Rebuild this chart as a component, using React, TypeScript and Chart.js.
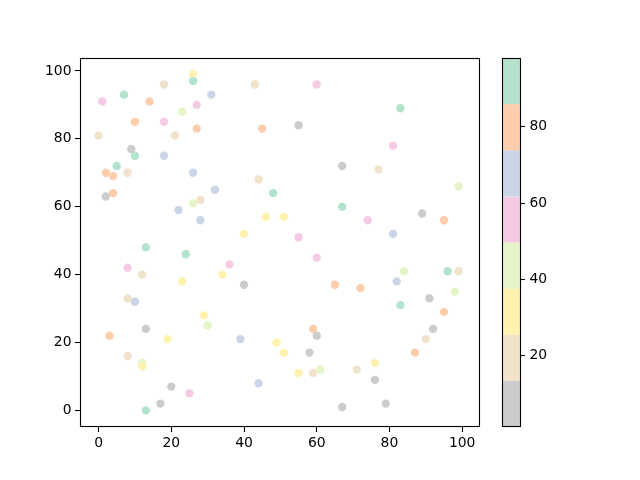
import { useEffect, useRef } from "react";
import { Chart, registerables } from "chart.js";

Chart.register(...registerables);

const xValues = [
  26, 26, 18, 31, 7, 1, 14, 27, 23, 10, 18, 27, 0, 21, 9, 10, 18, 5, 2, 4, 8, 26, 32, 2, 4, 26, 28, 22, 28,
  43, 60, 45, 55, 67, 44, 48, 67, 46, 51, 40, 55,
  83, 81, 77, 99, 89, 95, 74, 81,
  13, 24, 8, 12, 23, 8, 10, 29, 30, 13, 3, 19, 8, 12, 12, 20, 25, 17, 13,
  60, 36, 34, 40, 65, 59, 60, 39, 49, 51, 58, 55, 59, 61, 44, 67,
  84, 96, 99, 82, 72, 98, 91, 83, 95, 92, 90, 87, 76, 71, 76, 79,
];
const yValues = [
  99, 97, 96, 93, 93, 91, 91, 90, 88, 85, 85, 83, 81, 81, 77, 75, 75, 72, 70, 69, 70, 70, 65, 63, 64, 61, 62, 59, 56,
  96, 96, 83, 84, 72, 68, 64, 60, 57, 57, 52, 51,
  89, 78, 71, 66, 58, 56, 56, 52,
  48, 46, 42, 40, 38, 33, 32, 28, 25, 24, 22, 21, 16, 14, 13, 7, 5, 2, 0,
  45, 43, 40, 37, 37, 24, 22, 21, 20, 17, 17, 11, 11, 12, 8, 1,
  41, 41, 41, 38, 36, 35, 33, 31, 29, 24, 21, 17, 14, 12, 9, 2,
];
const colorValues = [
  31, 91, 19, 67, 91, 55, 79, 55, 43, 79, 55, 79, 19, 19, 7, 91, 67, 91, 79, 79, 19, 67, 67, 7, 79, 43, 19, 67, 67,
  19, 55, 79, 7, 7, 19, 91, 91, 31, 31, 31, 55,
  91, 55, 19, 43, 7, 79, 55, 67,
  91, 91, 55, 19, 31, 19, 67, 31, 43, 7, 79, 31, 19, 43, 31, 7, 55, 7, 91,
  55, 55, 31, 7, 79, 79, 7, 67, 31, 31, 7, 31, 19, 43, 67, 7,
  43, 91, 19, 67, 79, 43, 7, 91, 79, 7, 19, 79, 31, 19, 7, 7,
];

const axisTicks = [0, 20, 40, 60, 80, 100];
const colorbarTicks = [20, 40, 60, 80];
const colorMin = 1.3;
const colorMax = 97.8;
const palette = ["#cccccc", "#f1e2cc", "#fff2ae", "#e6f5c9", "#f4cae4", "#cbd5e8", "#fdcdac", "#b3e2cd"];

const FONT = "'DejaVu Sans', sans-serif";
const FONT_SIZE = 13.9;

function colorFor(v: number): string {
  let i = Math.floor(((v - colorMin) / (colorMax - colorMin)) * palette.length);
  if (i < 0) i = 0;
  if (i >= palette.length) i = palette.length - 1;
  return palette[i];
}

const framePlugin = {
  id: "frameAndColorbar",
  afterDraw(chart: any) {
    const ctx = chart.ctx as CanvasRenderingContext2D;
    const { left, top, right, bottom } = chart.chartArea;
    ctx.save();
    ctx.strokeStyle = "#000";
    ctx.lineWidth = 1.1;
    ctx.strokeRect(left + 0.5, top + 0.5, right - left - 1, bottom - top - 1);

    const cb = chart.scales.cb;
    const bx = right + 22;
    const bw = 18;
    const n = palette.length;
    for (let i = 0; i < n; i++) {
      const v0 = colorMin + (i * (colorMax - colorMin)) / n;
      const v1 = colorMin + ((i + 1) * (colorMax - colorMin)) / n;
      const p0 = cb.getPixelForValue(v0);
      const p1 = cb.getPixelForValue(v1);
      ctx.fillStyle = palette[i];
      ctx.fillRect(bx, p1, bw, p0 - p1);
    }
    const pt = cb.getPixelForValue(colorMax);
    const pb = cb.getPixelForValue(colorMin);
    ctx.strokeRect(bx + 0.5, pt + 0.5, bw, pb - pt - 1);

    ctx.fillStyle = "#000";
    ctx.font = `${FONT_SIZE}px ${FONT}`;
    ctx.textAlign = "left";
    ctx.textBaseline = "middle";
    for (const t of colorbarTicks) {
      const y = Math.round(cb.getPixelForValue(t)) + 0.5;
      ctx.beginPath();
      ctx.moveTo(bx + bw, y);
      ctx.lineTo(bx + bw + 5, y);
      ctx.stroke();
      ctx.fillText(String(t), bx + bw + 9.5, y);
    }
    ctx.restore();
  },
};

export default function App() {
  const ref = useRef<HTMLCanvasElement | null>(null);

  useEffect(() => {
    if (!ref.current) return;
    const points = xValues.map((x, i) => ({ x, y: yValues[i] }));
    const chart = new Chart(ref.current, {
      type: "scatter",
      data: {
        datasets: [
          {
            data: points,
            backgroundColor: colorValues.map(colorFor),
            borderWidth: 0,
            pointRadius: 4.17,
            pointHoverRadius: 4.17,
          },
        ],
      },
      options: {
        responsive: false,
        animation: false,
        events: [],
        layout: { padding: { top: 58, left: 0, right: 160, bottom: 0 } },
        plugins: { legend: { display: false }, tooltip: { enabled: false } },
        scales: {
          x: {
            type: "linear",
            min: -5.1,
            max: 104.9,
            afterBuildTicks: (s: any) => {
              s.ticks = axisTicks.map((v) => ({ value: v }));
            },
            afterFit: (s: any) => {
              s.height = 53;
            },
            border: { display: false },
            grid: { drawOnChartArea: false, drawTicks: true, tickLength: 5, tickColor: "#000", tickWidth: 1.1 },
            ticks: { color: "#000", font: { family: FONT, size: FONT_SIZE }, padding: 3, maxRotation: 0 },
          },
          y: {
            type: "linear",
            min: -4.9,
            max: 103.8,
            afterBuildTicks: (s: any) => {
              s.ticks = axisTicks.map((v) => ({ value: v }));
            },
            afterFit: (s: any) => {
              s.width = 80;
            },
            border: { display: false },
            grid: { drawOnChartArea: false, drawTicks: true, tickLength: 5, tickColor: "#000", tickWidth: 1.1 },
            ticks: { color: "#000", font: { family: FONT, size: FONT_SIZE }, padding: 3.5 },
          },
          cb: {
            type: "linear",
            position: "right",
            display: false,
            min: colorMin,
            max: colorMax,
          },
        },
      },
      plugins: [framePlugin],
    });
    return () => chart.destroy();
  }, []);

  return (
    <div style={{ position: "absolute", left: 0, top: 0, width: 640, height: 480, background: "#fff" }}>
      <canvas ref={ref} width={640} height={480} />
    </div>
  );
}
